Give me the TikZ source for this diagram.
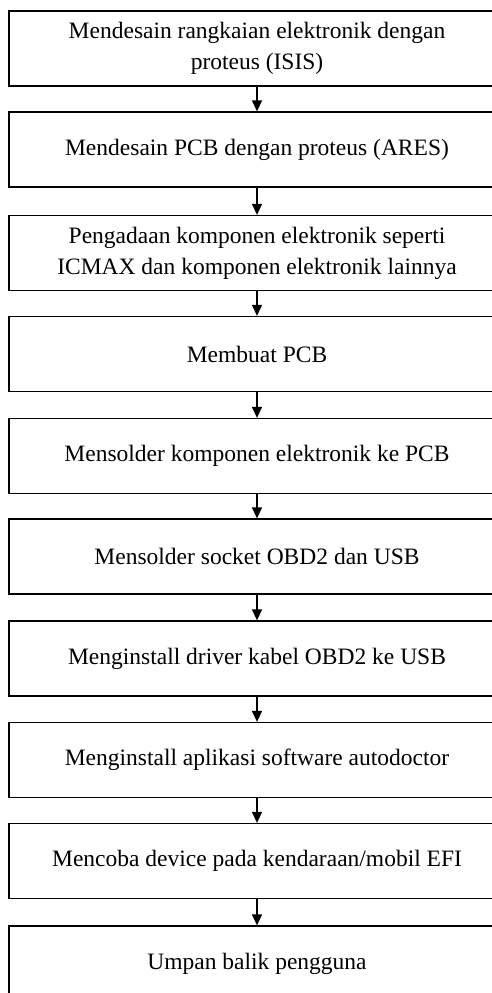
\documentclass[tikz,border=0pt]{standalone}
\usepackage{fontspec}
\setmainfont{Liberation Serif}
\usetikzlibrary{arrows.meta}
\begin{document}
\begin{tikzpicture}[x=1pt,y=-1pt,
  stepbox/.style={draw, line width=1.3pt, minimum width=496pt, minimum height=75pt,
    inner sep=0pt, align=center, font=\fontsize{23.5}{31}\selectfont},
  flow/.style={line width=1.3pt, -{Triangle[length=11pt,width=10pt]}}]
\useasboundingbox (0,0) rectangle (492,993);
\clip (0,0) rectangle (492,993);
\node[stepbox] (b1) at (257,48.5) {Mendesain rangkaian elektronik dengan\\proteus (ISIS)};
\node[stepbox] (b2) at (257,149.5) {Mendesain PCB dengan proteus (ARES)};
\node[stepbox] (b3) at (257,253) {Pengadaan komponen elektronik seperti\\ICMAX dan komponen elektronik lainnya};
\node[stepbox] (b4) at (257,354) {Membuat PCB};
\node[stepbox] (b5) at (257,456) {Mensolder komponen elektronik ke PCB};
\node[stepbox] (b6) at (257,556.5) {Mensolder socket OBD2 dan USB};
\node[stepbox] (b7) at (257,658.5) {Menginstall driver kabel OBD2 ke USB};
\node[stepbox] (b8) at (257,760) {Menginstall aplikasi software autodoctor};
\node[stepbox] (b9) at (257,861) {Mencoba device pada kendaraan/mobil EFI};
\node[stepbox] (b10) at (257,963.5) {Umpan balik pengguna};
\draw[flow] (b1) -- (b2);
\draw[flow] (b2) -- (b3);
\draw[flow] (b3) -- (b4);
\draw[flow] (b4) -- (b5);
\draw[flow] (b5) -- (b6);
\draw[flow] (b6) -- (b7);
\draw[flow] (b7) -- (b8);
\draw[flow] (b8) -- (b9);
\draw[flow] (b9) -- (b10);
\end{tikzpicture}
\end{document}
